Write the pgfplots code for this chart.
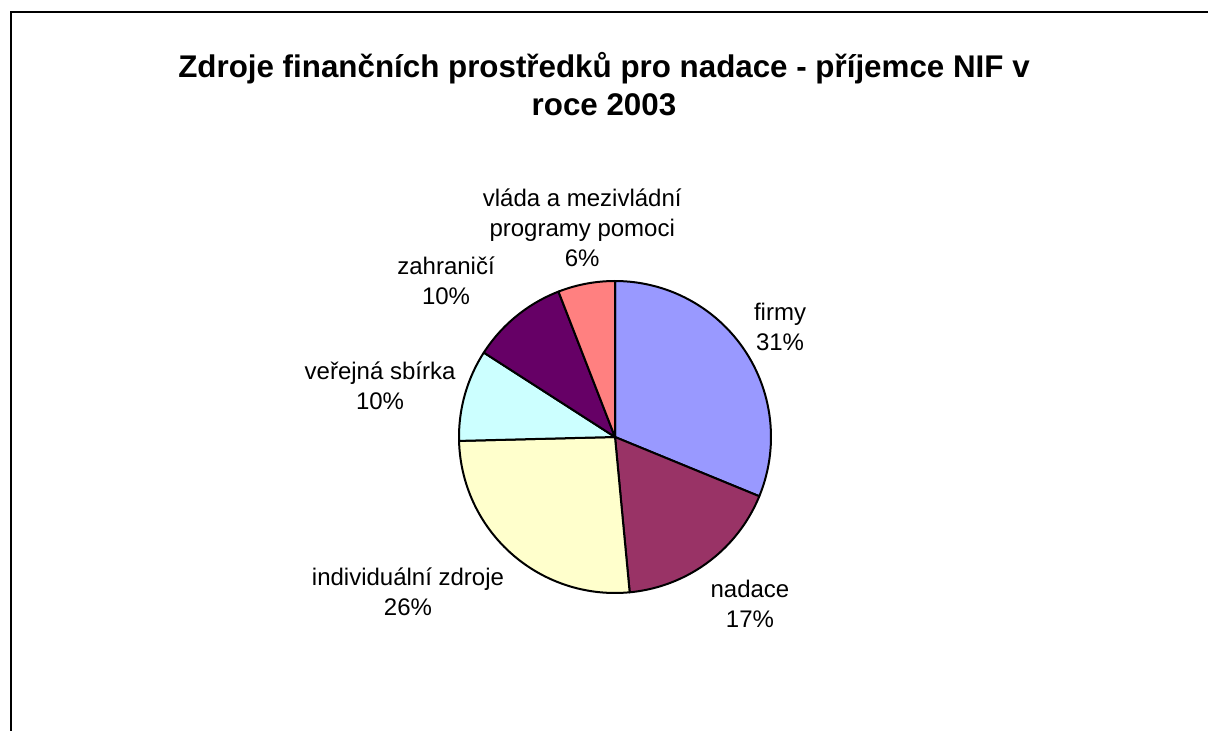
\documentclass[border=0pt]{standalone}
\usepackage{pgfplots}
\pgfplotsset{compat=1.18}
\usepackage{fontspec}
\setmainfont{Liberation Sans}
\definecolor{cFirmy}{HTML}{9999FF}
\definecolor{cNadace}{HTML}{993366}
\definecolor{cInd}{HTML}{FFFFCC}
\definecolor{cVer}{HTML}{CCFFFF}
\definecolor{cZah}{HTML}{660066}
\definecolor{cVlada}{HTML}{FF8080}
\begin{document}
\begin{tikzpicture}
% canvas 1208x731 px at 0.75pt/px
\path[use as bounding box] (0pt,0pt) rectangle (906pt,-548.25pt);
\draw[line width=1.5pt] (906pt,-9.2pt) -- (8.3pt,-9.2pt) -- (8.3pt,-548.25pt);
\node[align=center, font=\fontsize{23.5}{29}\selectfont\bfseries] at (453pt,-63pt)
  {Zdroje finančních prostředků pro nadace - příjemce NIF v\\roce 2003};
\begin{axis}[at={(461.25pt,-327.75pt)}, anchor=center, hide axis, scale only axis,
  width=234pt, height=234pt, xmin=-1, xmax=1, ymin=-1, ymax=1, clip=false,
  every axis plot/.append style={draw=black, line width=1.5pt, samples=60, line join=round}]
% slices: firmy 31.2, nadace 17.3, individualni 26.1, verejna 9.5, zahranici 10.0, vlada 5.9 (percent), clockwise from 90 deg
\addplot[fill=cFirmy, domain=-22.32:90] ({cos(x)},{sin(x)}) -- (axis cs:0,0) -- cycle;
\addplot[fill=cNadace, domain=-84.6:-22.32] ({cos(x)},{sin(x)}) -- (axis cs:0,0) -- cycle;
\addplot[fill=cInd, domain=-178.56:-84.6] ({cos(x)},{sin(x)}) -- (axis cs:0,0) -- cycle;
\addplot[fill=cVer, domain=-212.76:-178.56] ({cos(x)},{sin(x)}) -- (axis cs:0,0) -- cycle;
\addplot[fill=cZah, domain=-248.76:-212.76] ({cos(x)},{sin(x)}) -- (axis cs:0,0) -- cycle;
\addplot[fill=cVlada, domain=-270:-248.76] ({cos(x)},{sin(x)}) -- (axis cs:0,0) -- cycle;
\begin{scope}[every node/.style={align=center, font=\fontsize{18}{22.5}\selectfont}]
\node at (axis cs:1.058,0.705) {firmy\\31\%};
\node at (axis cs:0.865,-1.07) {nadace\\17\%};
\node at (axis cs:-1.327,-0.994) {individuální zdroje\\26\%};
\node at (axis cs:-1.506,0.327) {veřejná sbírka\\10\%};
\node at (axis cs:-1.083,1.0) {zahraničí\\10\%};
\node at (axis cs:-0.21,1.34) {vláda a mezivládní\\programy pomoci\\6\%};
\end{scope}
\end{axis}
\end{tikzpicture}
\end{document}
